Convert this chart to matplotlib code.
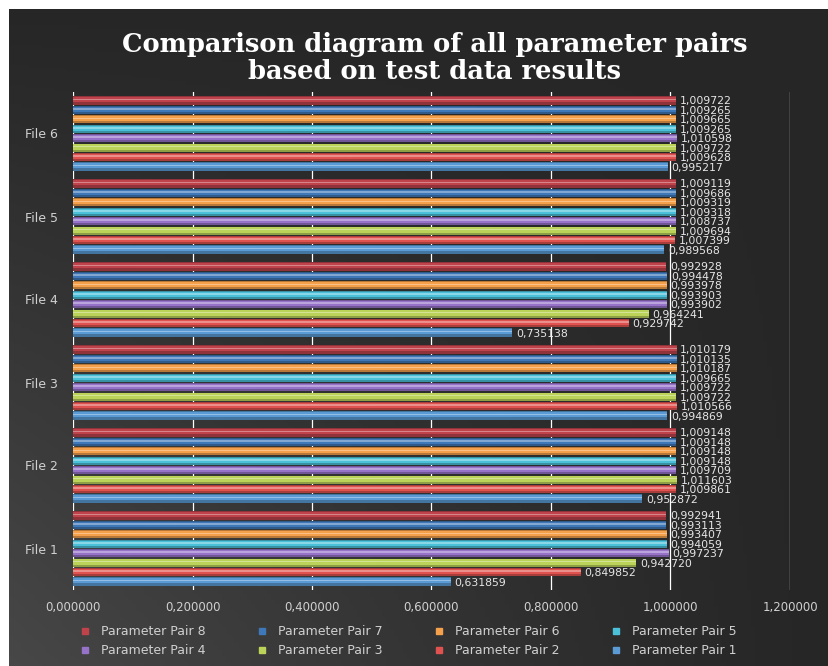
import numpy as np
import matplotlib.pyplot as plt
from matplotlib.lines import Line2D

files = ['File 1', 'File 2', 'File 3', 'File 4', 'File 5', 'File 6']
pairs = ['Parameter Pair 1', 'Parameter Pair 2', 'Parameter Pair 3', 'Parameter Pair 4',
         'Parameter Pair 5', 'Parameter Pair 6', 'Parameter Pair 7', 'Parameter Pair 8']

# values per pair, one entry per file (File 1 .. File 6)
pair1 = [0.631859, 0.952872, 0.994869, 0.735138, 0.989568, 0.995217]
pair2 = [0.849852, 1.009861, 1.010566, 0.929742, 1.007399, 1.009628]
pair3 = [0.942720, 1.011603, 1.009722, 0.964241, 1.009694, 1.009722]
pair4 = [0.997237, 1.009709, 1.009722, 0.993902, 1.008737, 1.010598]
pair5 = [0.994059, 1.009148, 1.009665, 0.993903, 1.009318, 1.009265]
pair6 = [0.993407, 1.009148, 1.010187, 0.993978, 1.009319, 1.009665]
pair7 = [0.993113, 1.009148, 1.010135, 0.994478, 1.009686, 1.009265]
pair8 = [0.992941, 1.009148, 1.010179, 0.992928, 1.009119, 1.009722]
values = [pair1, pair2, pair3, pair4, pair5, pair6, pair7, pair8]

colors = ['#5b9bd5', '#e0524f', '#bcd35a', '#9673c9',
          '#4bc0d9', '#f5a04a', '#3f78b8', '#c0434c']

xticks = [0.0, 0.2, 0.4, 0.6, 0.8, 1.0, 1.2]


def fmt(v):
    return f'{v:.6f}'.replace('.', ',')


def lighten(c, amt):
    rgb = np.array(plt.matplotlib.colors.to_rgb(c))
    return tuple(rgb + (1 - rgb) * amt)


def darken(c, amt):
    rgb = np.array(plt.matplotlib.colors.to_rgb(c))
    return tuple(rgb * (1 - amt))


fig = plt.figure(figsize=(8.29, 6.66), dpi=100, facecolor='white')

# dark background panel with a soft gradient (lighter bottom-left)
bg = fig.add_axes([9 / 829, 0, 1 - 9 / 829, 1 - 9 / 666])
yy, xx = np.mgrid[0:1:200j, 0:1:200j]
shade = 0.15 + 0.13 * yy * (1 - xx) ** 1.2
bg.imshow(np.dstack([shade, shade, shade]), aspect='auto', origin='upper',
          extent=[0, 1, 0, 1])
bg.set_axis_off()

ax = fig.add_axes([73 / 829, 1 - 590 / 666, 717 / 829, 498 / 666])
ax.set_facecolor('none')

slot = 1 / 8.8
bar_h = slot * 0.86
y0 = np.arange(len(files))
for k, (vals, c) in enumerate(zip(values, colors)):
    ypos = y0 + (k - 3.5) * slot
    ax.barh(ypos, vals, height=bar_h, color=darken(c, 0.25), linewidth=0, zorder=3)
    ax.barh(ypos + bar_h * 0.08, vals, height=bar_h * 0.62, color=c,
            linewidth=0, zorder=4)
    ax.barh(ypos + bar_h * 0.12, vals, height=bar_h * 0.2, color=lighten(c, 0.35),
            linewidth=0, zorder=4)
    for y, v in zip(ypos, vals):
        ax.text(v + 0.006, y - 0.012, fmt(v), color='#e6e6e6', fontsize=7.8,
                va='center', ha='left', zorder=5)

ax.set_xlim(0, 1.2)
ax.set_ylim(-0.5, 5.5)
ax.set_xticks(xticks)
ax.set_xticklabels([fmt(t) for t in xticks], color='#d0d0d0', fontsize=8.5)
ax.set_yticks(y0)
ax.set_yticklabels(files, color='#d0d0d0', fontsize=9)
ax.tick_params(axis='y', length=0, pad=11)
ax.tick_params(axis='x', length=0, pad=8)
ax.grid(axis='x', color='white', linewidth=0.9, zorder=1)
for s in ax.spines.values():
    s.set_visible(False)

fig.text(0.524, 1 - 58 / 666, 'Comparison diagram of all parameter pairs\nbased on test data results',
         ha='center', va='center', color='white', fontsize=18.5, fontweight='bold',
         family='DejaVu Serif', linespacing=1.1)

# legend: row 1 = pairs 8,7,6,5 ; row 2 = pairs 4,3,2,1
handles = [Line2D([], [], marker='s', linestyle='none', markersize=5,
                  color=c, label=p) for c, p in zip(colors, pairs)]
order = [7, 3, 6, 2, 5, 1, 4, 0]
leg = fig.legend([handles[i] for i in order], [pairs[i] for i in order],
                 ncol=4, loc='center', bbox_to_anchor=(0.488, 1 - 641 / 666),
                 frameon=False, fontsize=9, labelcolor='#d0d0d0',
                 columnspacing=3.5, handletextpad=0.3, labelspacing=0.5)

fig.savefig('out.png', dpi=100, facecolor='white')
